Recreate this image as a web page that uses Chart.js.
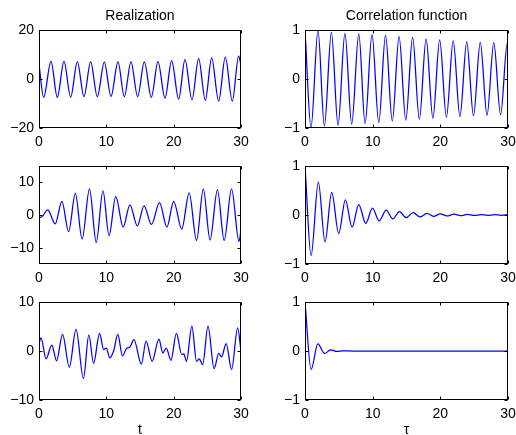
<!DOCTYPE html>
<html>
<head>
<meta charset="utf-8">
<script src="https://cdn.jsdelivr.net/npm/chart.js@4.4.1/dist/chart.umd.min.js"></script>
<style>
  html, body { margin: 0; padding: 0; background: #fff; overflow: hidden; }
  canvas { position: absolute; }
</style>
</head>
<body>
<canvas id="p11"></canvas>
<canvas id="p12"></canvas>
<canvas id="p21"></canvas>
<canvas id="p22"></canvas>
<canvas id="p31"></canvas>
<canvas id="p32"></canvas>
<script>
// valeurs : [t, valeur] aux extrema
const realization1 = [[0, 6.0], [0.69, -7.5], [1.78, 7.2], [2.72, -7.5], [3.71, 7.2], [4.70, -7.4], [5.69, 7.0],
  [6.68, -7.2], [7.67, 7.0], [8.66, -7.2], [9.70, 6.9], [10.69, -7.1], [11.73, 7.0], [12.67, -7.2], [13.66, 7.0],
  [14.65, -7.2], [15.64, 7.0], [16.68, -7.5], [17.67, 7.1], [18.71, -7.8], [19.70, 7.5], [20.74, -8.2], [21.68, 7.9],
  [22.72, -8.5], [23.71, 8.3], [24.70, -8.7], [25.64, 8.6], [26.68, -9.0], [27.67, 8.9], [28.71, -9.1], [29.65, 9.3], [30, 5.6]];

const correlation1 = [[0, 1], [0.89, -0.99], [1.92, 0.99], [2.86, -0.96], [3.9, 0.95], [4.88, -0.95], [5.9, 0.93],
  [6.9, -0.92], [7.95, 0.92], [8.88, -0.91], [9.9, 0.91], [10.9, -0.89], [11.9, 0.89], [12.9, -0.86], [13.9, 0.87],
  [14.9, -0.84], [15.9, 0.85], [16.9, -0.82], [17.9, 0.82], [18.9, -0.80], [19.9, 0.80], [20.9, -0.78], [21.9, 0.78],
  [22.9, -0.77], [23.9, 0.76], [24.9, -0.75], [25.9, 0.75], [26.9, -0.74], [27.9, 0.74], [28.9, -0.73], [29.9, 0.73], [30, 0.72]];

const realization2 = [[0, -0.5], [0.3, -0.7], [1.3, 1.6], [2.4, -2.7], [3.4, 4.2], [4.4, -5.1], [5.4, 6.6], [6.4, -7.4],
  [7.5, 8.0], [8.5, -8.4], [9.5, 7.4], [10.4, -6.3], [11.4, 5.6], [12.5, -3.7], [13.5, 3.1], [14.6, -3.3], [15.6, 2.8],
  [16.7, -2.9], [17.9, 3.8], [19.0, -3.7], [20.0, 4.2], [21.2, -4.3], [22.3, 6.8], [23.4, -7.8], [24.4, 8.0],
  [25.4, -7.6], [26.5, 7.7], [27.5, -7.8], [28.6, 8.0], [29.7, -8.1], [30, -4.5]];

const correlation2 = [[0, 1], [0.9, -0.83], [1.97, 0.67], [2.96, -0.55], [3.95, 0.46], [4.98, -0.38], [5.97, 0.31],
  [6.96, -0.25], [7.94, 0.21], [8.98, -0.17], [9.97, 0.14], [10.95, -0.12], [12.0, 0.10], [12.97, -0.08], [13.96, 0.07],
  [14.95, -0.055], [15.98, 0.048], [17.0, -0.04], [18.0, 0.034], [19.0, -0.028], [20.0, 0.024], [21.0, -0.02],
  [22.0, 0.017], [23.0, -0.014], [24.0, 0.012], [25.0, -0.01], [26.0, 0.009], [27.0, -0.008], [28.0, 0.007],
  [29.0, -0.006], [30, 0.005]];

const realization3 = [[0, 1.5], [0.3, 2.7], [1.05, -1.6], [1.9, 1.2], [2.6, -2.0], [3.5, 3.4], [4.5, -3.3], [5.5, 4.4],
  [6.6, -5.6], [7.4, 3.3], [8.1, -2.5], [9.0, 3.6], [9.6, 0.3], [10.0, 0.6], [10.5, -1.4], [11.1, 0.1], [11.7, 3.4],
  [12.4, -1.0], [13.0, 0.5], [13.5, 0.8], [14.1, 2.3], [15.2, -2.7], [15.9, 2.0], [16.8, -2.1], [17.8, 2.4],
  [18.4, -0.4], [18.9, 0.6], [19.6, -1.9], [20.4, 3.6], [21.2, -0.75], [21.5, -0.6], [21.9, -2.1], [22.7, 5.1],
  [23.4, -2.1], [23.8, -1.6], [24.3, -2.8], [25.1, 5.1], [26.0, -3.6], [26.7, -0.5], [27.1, -1.2], [27.8, 1.5],
  [28.6, -3.8], [29.5, 4.7], [30, 0]];

const correlation3 = [[0, 1], [0.9, -0.38], [1.9, 0.145], [2.9, -0.05], [3.8, 0.025], [4.7, -0.01], [5.6, 0.004],
  [7, 0], [30, 0]];

const xTicks = [0, 10, 20, 30];
const yTicksReal1 = [-20, 0, 20];
const yTicksReal2 = [-10, 0, 10];
const yTicksReal3 = [-10, 0, 10];
const yTicksCorr = [-1, 0, 1];

const titles = ['Realization', 'Correlation function'];
const xLabels = ['t', '\u03c4'];

// géométrie des panneaux
const PAD_TOP = 30, PAD_RIGHT = 14, Y_W = 39, X_H = 40, PH = 98;
const cols = [{ x: 39, w: 202 }, { x: 305, w: 203 }];
const rows = [30, 166, 302];

Chart.defaults.font.family = '"Liberation Sans", Arial, Helvetica, sans-serif';
Chart.defaults.font.size = 14;
Chart.defaults.color = '#000';

const fmt = v => (v < 0 ? '\u2212' + Math.abs(v) : String(v));

// cadre + graduations intérieures façon MATLAB, titres et libellés
const panelPlugin = {
  id: 'panel',
  afterDraw(chart, args, opts) {
    const { ctx, chartArea: a, scales } = chart;
    const L = Math.round(a.left) + 0.5, R = Math.round(a.right) - 0.5;
    const T = Math.round(a.top) + 0.5, B = Math.round(a.bottom) - 0.5;
    ctx.save();
    ctx.strokeStyle = '#000';
    ctx.lineWidth = 1;
    ctx.strokeRect(L, T, R - L, B - T);
    ctx.beginPath();
    scales.x.ticks.forEach(t => {
      const px = Math.round(scales.x.getPixelForValue(t.value)) + 0.5;
      ctx.moveTo(px, B); ctx.lineTo(px, B - 3);
      ctx.moveTo(px, T); ctx.lineTo(px, T + 3);
    });
    scales.y.ticks.forEach(t => {
      const py = Math.round(scales.y.getPixelForValue(t.value)) + 0.5;
      ctx.moveTo(L, py); ctx.lineTo(L + 3, py);
      ctx.moveTo(R, py); ctx.lineTo(R - 3, py);
    });
    ctx.stroke();
    ctx.fillStyle = '#000';
    ctx.font = '14px "Liberation Sans", Arial, sans-serif';
    ctx.textAlign = 'center';
    ctx.textBaseline = 'alphabetic';
    const cx = (a.left + a.right) / 2;
    if (opts.title) ctx.fillText(opts.title, cx, a.top - 10.5);
    if (opts.xlabel) ctx.fillText(opts.xlabel, cx, a.bottom + 34);
    ctx.restore();
  }
};

function makePanel(id, row, col, points, yMin, yMax, yTicks, title, xlabel) {
  const c = cols[col];
  const canvas = document.getElementById(id);
  canvas.width = Y_W + c.w + PAD_RIGHT;
  canvas.height = PAD_TOP + PH + X_H;
  canvas.style.left = (c.x - Y_W) + 'px';
  canvas.style.top = (rows[row] - PAD_TOP) + 'px';

  return new Chart(canvas.getContext('2d'), {
    type: 'line',
    data: {
      datasets: [{
        data: points.map(p => ({ x: p[0], y: p[1] })),
        borderColor: '#0000ff',
        borderWidth: 1.25,
        pointRadius: 0,
        fill: false,
        cubicInterpolationMode: 'monotone'
      }]
    },
    options: {
      responsive: false,
      animation: false,
      events: [],
      layout: { padding: { top: PAD_TOP, right: PAD_RIGHT, left: 0, bottom: 0 } },
      plugins: {
        legend: { display: false },
        tooltip: { enabled: false },
        panel: { title: title, xlabel: xlabel }
      },
      scales: {
        x: {
          type: 'linear', min: 0, max: 30,
          afterBuildTicks: s => { s.ticks = xTicks.map(v => ({ value: v })); },
          afterFit: s => { s.height = X_H; },
          grid: { display: false, drawTicks: false },
          border: { display: false },
          ticks: { padding: 6, maxRotation: 0, autoSkip: false, callback: fmt }
        },
        y: {
          type: 'linear', min: yMin, max: yMax,
          afterBuildTicks: s => { s.ticks = yTicks.map(v => ({ value: v })); },
          afterFit: s => { s.width = Y_W; },
          grid: { display: false, drawTicks: false },
          border: { display: false },
          ticks: { padding: 5, autoSkip: false, callback: fmt }
        }
      }
    },
    plugins: [panelPlugin]
  });
}

makePanel('p11', 0, 0, realization1, -20, 20, yTicksReal1, titles[0], null);
makePanel('p12', 0, 1, correlation1, -1, 1, yTicksCorr, titles[1], null);
makePanel('p21', 1, 0, realization2, -15, 15, yTicksReal2, null, null);
makePanel('p22', 1, 1, correlation2, -1, 1, yTicksCorr, null, null);
makePanel('p31', 2, 0, realization3, -10, 10, yTicksReal3, null, xLabels[0]);
makePanel('p32', 2, 1, correlation3, -1, 1, yTicksCorr, null, xLabels[1]);
</script>
</body>
</html>
